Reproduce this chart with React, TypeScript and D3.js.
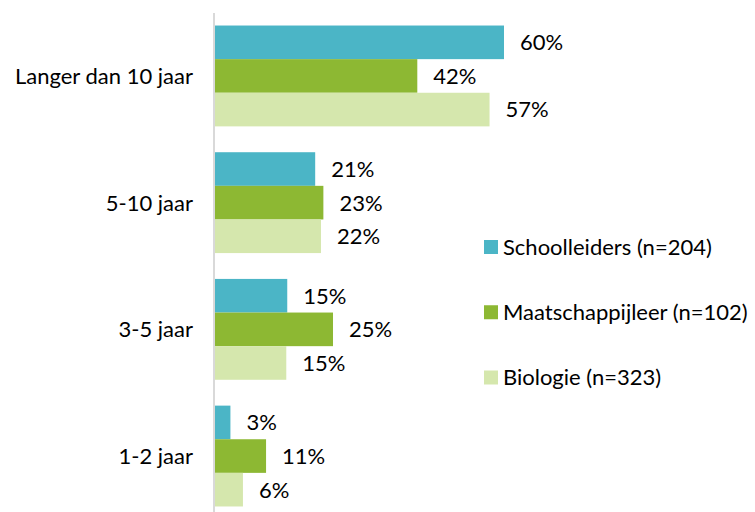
import React from "react";
import * as d3 from "d3";

const categories = ["Langer dan 10 jaar", "5-10 jaar", "3-5 jaar", "1-2 jaar"];
const seriesNames = ["Schoolleiders (n=204)", "Maatschappijleer (n=102)", "Biologie (n=323)"];
const schoolleiders = [60, 20.8, 15, 3.2];
const maatschappijleer = [42, 22.5, 24.5, 10.6];
const biologie = [57, 22, 14.8, 5.8];
const colors = ["#4BB5C6", "#8DB833", "#D5E7AD"];

const W = 755;
const H = 512;
const FONT = "Lato, 'Open Sans', sans-serif";
const FS = 22;

export default function App() {
  const series = [schoolleiders, maatschappijleer, biologie];
  const x0 = 215;
  const x = d3.scaleLinear().domain([0, 60]).range([x0, 504]);
  const y = d3
    .scaleBand<string>()
    .domain(categories)
    .range([12.6, 519.4])
    .paddingInner(0.204)
    .paddingOuter(0.102);
  const inner = d3
    .scaleBand<number>()
    .domain([0, 1, 2])
    .range([0, y.bandwidth()]);

  const legendY = d3.scalePoint<number>().domain([0, 1, 2]).range([247, 377.5]);

  return (
    <svg
      width={W}
      height={H}
      style={{ position: "absolute", left: 0, top: 0, fontFamily: FONT }}
    >
      <rect x={0} y={0} width={W} height={H} fill="#ffffff" />
      {categories.map((c, ci) => (
        <g key={c}>
          {series.map((s, si) => {
            const yy = (y(c) as number) + (inner(si) as number);
            const h = inner.bandwidth();
            return (
              <g key={si}>
                <rect x={x0} y={yy} width={x(s[ci]) - x0} height={h} fill={colors[si]} />
                <text
                  x={x(s[ci]) + 16}
                  y={yy + h / 2}
                  dy="0.36em"
                  fontSize={FS}
                  fill="#000"
                >
                  {Math.round(s[ci])}%
                </text>
              </g>
            );
          })}
          <text
            x={193}
            y={(y(c) as number) + y.bandwidth() / 2}
            dy="0.36em"
            textAnchor="end"
            fontSize={FS}
            fill="#000"
          >
            {c}
          </text>
        </g>
      ))}
      <line x1={214} x2={214} y1={13} y2={H} stroke="#D9D9D9" strokeWidth={2} />
      {seriesNames.map((n, i) => (
        <g key={n}>
          <rect x={484} y={legendY(i)! - 7} width={14} height={14} fill={colors[i]} />
          <text x={503} y={legendY(i)!} dy="0.36em" fontSize={FS} fill="#000">
            {n}
          </text>
        </g>
      ))}
    </svg>
  );
}
